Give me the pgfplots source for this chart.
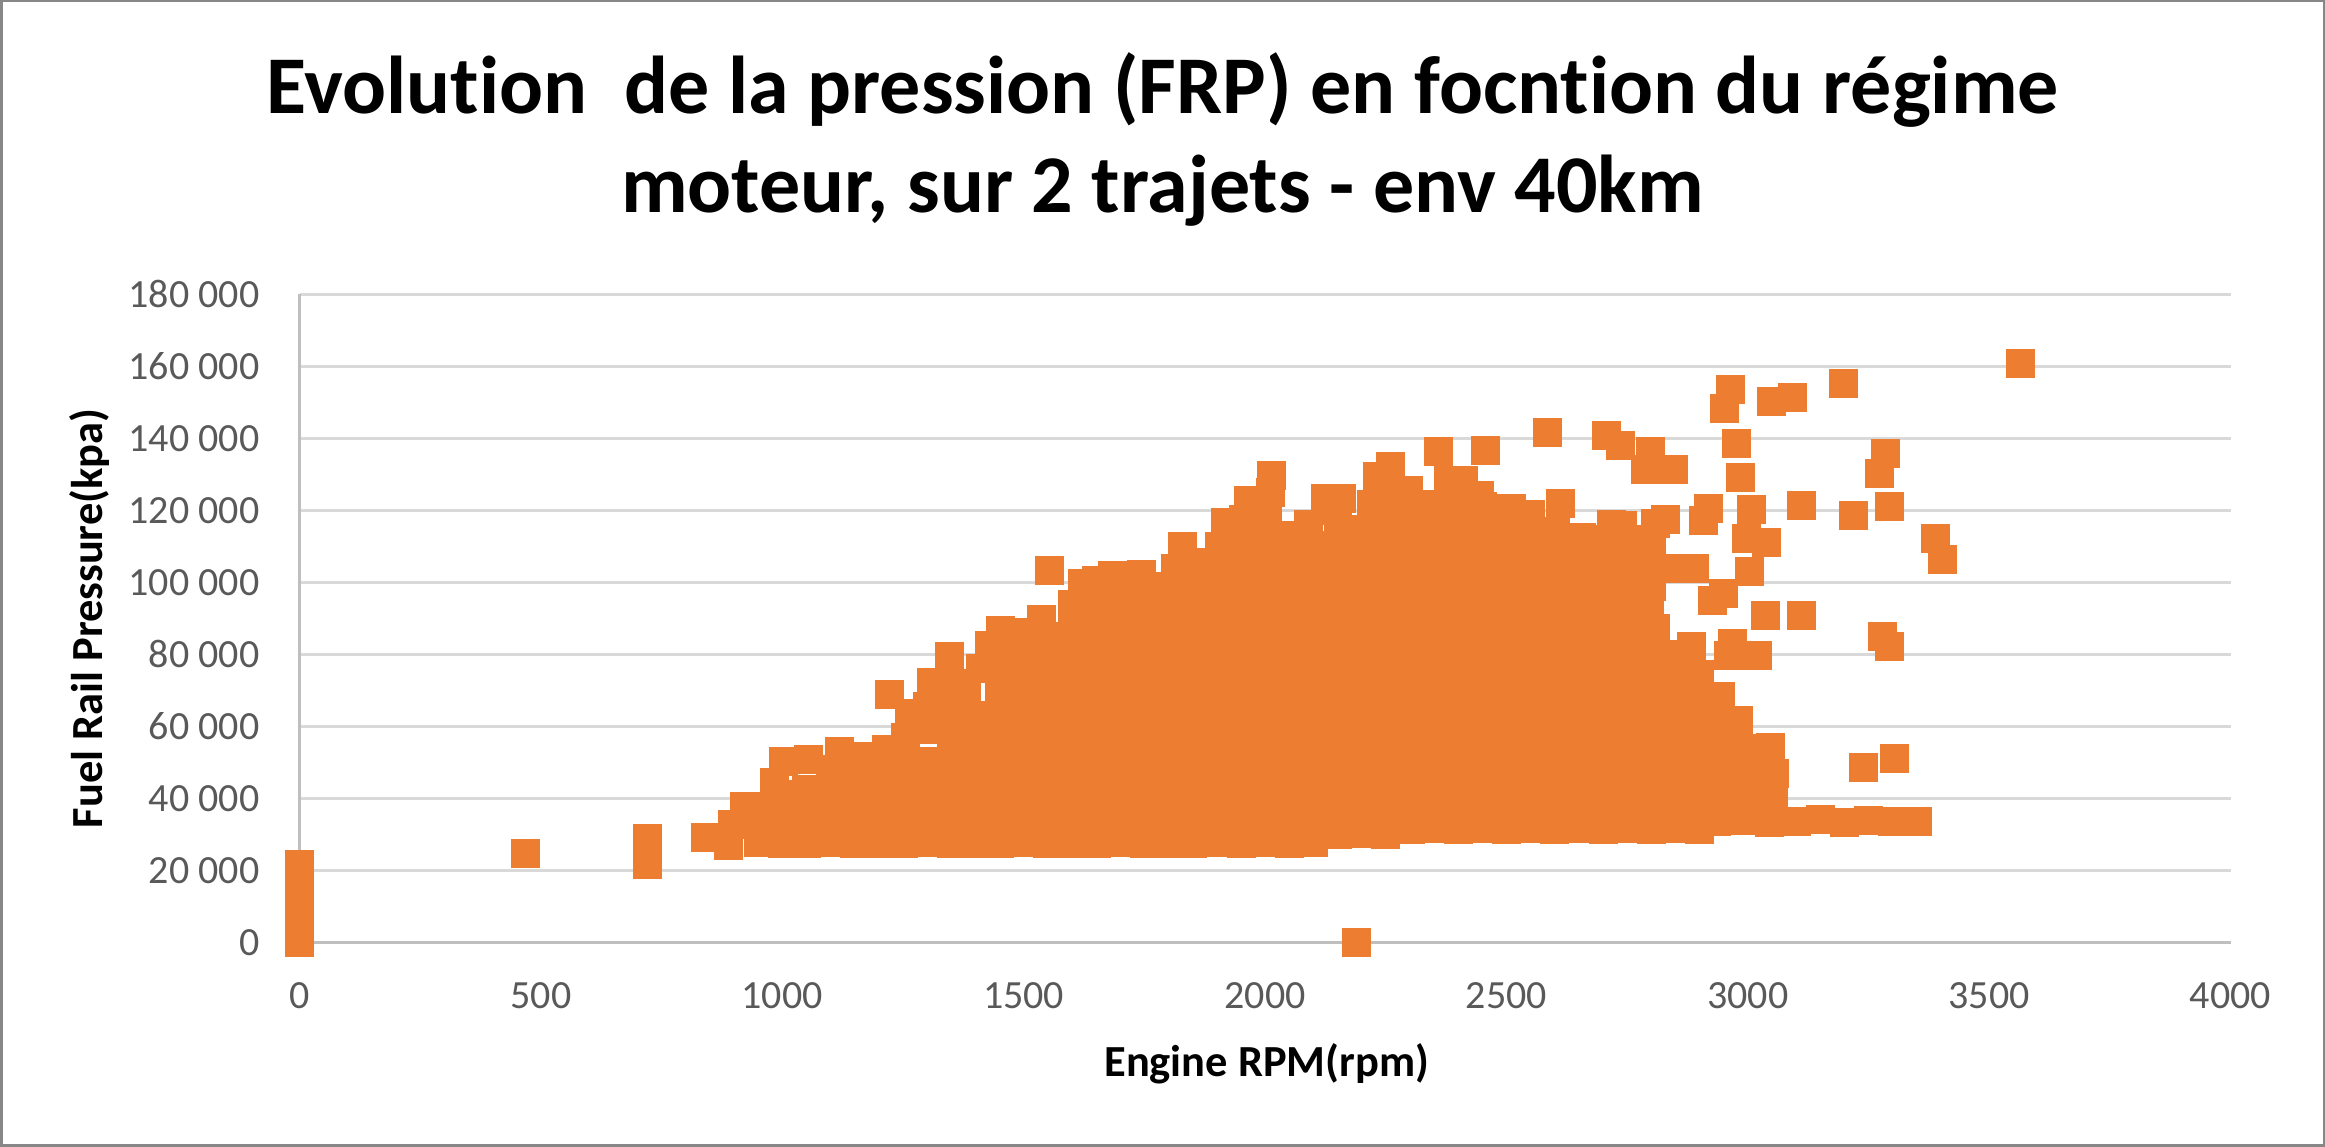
\documentclass[border=0pt]{standalone}
\usepackage{fontspec}
\setmainfont{Carlito}[Ligatures={NoCommon}]
\usepackage{pgfplots}
\pgfplotsset{compat=1.18}
\definecolor{xlorange}{HTML}{ED7D31}
\definecolor{gridgray}{HTML}{D9D9D9}
\definecolor{axisgray}{HTML}{BFBFBF}
\definecolor{ticktext}{HTML}{595959}
\definecolor{framegray}{HTML}{878787}
\begin{document}
\begin{tikzpicture}
\useasboundingbox (0,0) rectangle (697.5pt,344.1pt);
\fill[white] (0,0) rectangle (697.5pt,344.1pt);
\begin{axis}[
  at={(89.85pt,61.4pt)}, anchor=south west,
  scale only axis, width=579.3pt, height=194.4pt,
  xmin=0, xmax=4000, ymin=0, ymax=180000,
  axis x line*=bottom, axis y line*=left,
  axis line style={axisgray, line width=0.8pt},
  xtick={0,500,1000,1500,2000,2500,3000,3500,4000},
  xticklabels={0,500,1000,1500,2000,2500,3000,3500,4000},
  ytick={0,20000,40000,60000,80000,100000,120000,140000,160000,180000},
  yticklabels={0,20 000,40 000,60 000,80 000,100 000,120 000,140 000,160 000,180 000},
  ymajorgrids, major grid style={gridgray, line width=0.8pt},
  major tick length=0pt,
  tick label style={font=\fontsize{12}{14}\selectfont, text=ticktext, inner sep=0pt},
  yticklabel style={anchor=east, xshift=-11.85pt},
  xticklabel style={anchor=north, yshift=-11.9pt},
  scaled y ticks=false,
  clip=false,
]
\addplot[only marks, mark=square*, mark size=4.2pt,
  mark options={fill=xlorange, draw=xlorange, line width=0.2pt}] coordinates {
(0,0)(0,3600)(0,7200)(0,10900)(0,14500)(0,18200)(0,21800)
(468,24700)(720,28900)(720,21700)
(840,29200)(888,26900)(896,32900)(922,37700)
(948,37900)(950,27800)(950,32800)
(984,44500)(1002,50400)(1000,27600)(1000,35000)(995,41000)
(1053,50900)(1050,27500)(1050,35000)(1050,42500)
(1119,53100)(1100,27700)(1100,35200)(1100,42700)(1100,48000)
(1155,51600)(1150,27400)(1150,34900)(1150,42400)(1150,47000)
(1216,53600)(1200,27600)(1200,35100)(1200,42600)(1200,48500)(1221,68900)
(1264,63600)(1250,27500)(1250,35000)(1250,42500)(1250,50000)(1255,57000)
(1308,72200)(1315,59200)(1300,27700)(1300,35200)(1300,42700)(1300,50200)(1300,65500)
(1347,79400)(1350,27400)(1350,34900)(1350,42400)(1350,49900)(1350,57400)(1350,64900)(1350,72000)
(1381,69100)(1400,27600)(1400,35100)(1400,42600)(1400,50100)(1400,57600)(1400,63000)(1429,82400)(1410,76000)
(1451,86600)(1450,27500)(1450,35000)(1450,42500)(1450,50000)(1450,57500)(1450,65000)(1450,72500)(1450,79500)
(1500,27700)(1500,35200)(1500,42700)(1500,50200)(1500,57700)(1500,65200)(1500,72700)(1500,80200)(1490,86000)
(1536,89800)(1554,103400)(1550,27400)(1550,34900)(1550,42400)(1550,49900)(1550,57400)(1550,64900)(1550,72400)(1550,79900)(1550,85000)
(1621,99700)(1600,27600)(1600,35100)(1600,42600)(1600,50100)(1600,57600)(1600,65100)(1600,72600)(1600,80100)(1600,87600)(1600,94000)
(1650,27500)(1652,35000)(1648,42500)(1651,50000)(1649,57500)(1653,65000)(1650,72500)(1647,80000)(1652,87500)(1650,94500)(1650,100500)
(1700,27700)(1698,35200)(1702,42700)(1700,50200)(1699,57700)(1701,65200)(1703,72700)(1700,80200)(1698,87700)(1701,95000)(1684,102000)
(1750,27400)(1752,34900)(1748,42400)(1750,49900)(1751,57400)(1749,64900)(1750,72400)(1753,79900)(1747,87400)(1750,94900)(1744,102200)
(1800,27600)(1802,35100)(1798,42600)(1800,50100)(1801,57600)(1799,65100)(1800,72600)(1803,80100)(1797,87600)(1800,95100)(1795,99000)(1828,110000)(1815,104000)
(1850,27500)(1852,35000)(1848,42500)(1850,50000)(1851,57500)(1849,65000)(1850,72500)(1853,80000)(1847,87500)(1850,95000)(1850,102500)(1870,105500)
(1900,27700)(1902,35200)(1898,42700)(1900,50200)(1901,57700)(1899,65200)(1900,72700)(1903,80200)(1897,87700)(1900,95200)(1900,102700)(1905,110000)(1917,116700)
(1950,27500)(1952,35000)(1948,42500)(1950,50000)(1951,57500)(1949,65000)(1950,72500)(1953,80000)(1947,87500)(1950,95000)(1950,102500)(1952,110000)(1955,117500)(1965,122700)
(2000,27700)(2002,35200)(1998,42700)(2000,50200)(2001,57700)(1999,65200)(2000,72700)(2003,80200)(1997,87700)(2000,95200)(2000,102700)(2002,110200)(2005,117700)(2010,125000)(2014,129800)
(2050,27500)(2052,35000)(2048,42500)(2050,50000)(2051,57500)(2049,65000)(2050,72500)(2053,80000)(2047,87500)(2050,95000)(2050,102500)(2050,110000)(2040,113000)
(2100,27700)(2102,35200)(2098,42700)(2100,50200)(2101,57700)(2099,65200)(2100,72700)(2103,80200)(2097,87700)(2100,95200)(2100,102700)(2100,110200)(2090,116200)
(2150,30000)(2152,37500)(2148,45000)(2150,52500)(2151,60000)(2149,67500)(2150,75000)(2153,82500)(2147,90000)(2150,97500)(2150,105000)(2152,112500)(2150,120000)(2125,123400)(2158,123400)
(2200,30200)(2202,37700)(2198,45200)(2200,52700)(2201,60200)(2199,67700)(2200,75200)(2203,82700)(2197,90200)(2200,97700)(2200,105200)(2200,112000)(2200,114800)
(2250,30000)(2252,37500)(2248,45000)(2250,52500)(2251,60000)(2249,67500)(2250,75000)(2253,82500)(2247,90000)(2250,97500)(2250,105000)(2252,112500)(2250,120000)(2255,127500)(2260,132300)(2220,121700)(2232,129500)
(2300,31500)(2302,39000)(2298,46500)(2300,54000)(2301,61500)(2299,69000)(2300,76500)(2303,84000)(2297,91500)(2300,99000)(2300,106500)(2302,114000)(2300,121500)(2296,125600)
(2350,31700)(2352,39200)(2348,46700)(2350,54200)(2351,61700)(2349,69200)(2350,76700)(2353,84200)(2347,91700)(2350,99200)(2350,106700)(2352,114200)(2350,121700)(2380,128200)(2360,136500)
(2400,31500)(2402,39000)(2398,46500)(2400,54000)(2401,61500)(2399,69000)(2400,76500)(2403,84000)(2397,91500)(2400,99000)(2400,106500)(2402,114000)(2400,121500)(2410,128200)
(2450,31700)(2452,39200)(2448,46700)(2450,54200)(2451,61700)(2449,69200)(2450,76700)(2453,84200)(2447,91700)(2450,99200)(2450,106700)(2452,114200)(2450,121000)(2444,124300)(2457,136800)
(2500,31500)(2502,39000)(2498,46500)(2500,54000)(2501,61500)(2499,69000)(2500,76500)(2503,84000)(2497,91500)(2500,99000)(2500,106500)(2502,114000)(2510,120600)
(2550,31700)(2552,39200)(2548,46700)(2550,54200)(2551,61700)(2549,69200)(2550,76700)(2553,84200)(2547,91700)(2550,99200)(2550,106700)(2552,114200)(2550,118800)
(2600,31500)(2602,39000)(2598,46500)(2600,54000)(2601,61500)(2599,69000)(2600,76500)(2603,84000)(2597,91500)(2600,99000)(2600,106500)(2602,114000)(2611,122000)(2585,141800)
(2650,31700)(2652,39200)(2648,46700)(2650,54200)(2651,61700)(2649,69200)(2650,76700)(2653,84200)(2647,91700)(2650,99200)(2650,106700)(2655,112500)
(2700,31500)(2702,39000)(2698,46500)(2700,54000)(2701,61500)(2699,69000)(2700,76500)(2703,84000)(2697,91500)(2700,99000)(2700,106500)(2700,112000)(2718,116000)(2708,140800)
(2750,31700)(2752,39200)(2748,46700)(2750,54200)(2751,61700)(2749,69200)(2750,76700)(2753,84200)(2747,91700)(2750,99200)(2750,106700)(2750,112000)(2740,115800)(2736,138100)
(2800,31500)(2802,39000)(2798,46500)(2800,54000)(2801,61500)(2799,69000)(2800,76500)(2803,84000)(2797,91500)(2800,99000)(2800,104000)(2800,108400)(2808,87300)(2808,116500)(2829,117400)(2798,136500)(2787,131300)
(2850,31700)(2852,39200)(2848,46700)(2850,54200)(2851,61700)(2849,69200)(2850,76500)(2850,80000)(2841,103800)(2846,131300)
(2900,31500)(2902,39000)(2898,46500)(2900,54000)(2901,61500)(2899,69000)(2900,74500)(2883,82200)(2889,103800)(2907,117300)(2918,120600)
(2935,33500)(2950,39000)(2950,46500)(2950,54000)(2944,61400)(2944,68300)(2960,79800)(2969,83100)(2926,95100)(2950,97000)(2951,148200)(2963,153500)(2976,138700)(2985,129300)
(2990,33800)(3000,39000)(3000,46500)(3000,54000)(2980,61800)(3019,79800)(3003,103000)(3008,120400)(2996,112200)
(3045,33300)(3053,40000)(3054,47000)(3046,54300)(3039,111200)(3036,90900)(3049,150400)
(3100,33600)(3150,34200)(3200,33400)(3250,33900)(3300,33700)(3351,33500)
(3092,151300)(3197,155400)(3564,160700)(3111,121300)(3218,118700)(3293,121100)(3285,135800)(3273,130400)
(3388,112300)(3404,106500)(3111,90900)(3278,85100)(3293,82300)(3239,48600)(3303,51000)(2189,0)
};
\end{axis}
\node[anchor=base, font=\fontsize{24.6}{29}\selectfont\bfseries] at (348.75pt,309.9pt) {Evolution\ \ de la pression (FRP) en focntion du régime};
\node[anchor=base, font=\fontsize{24.6}{29}\selectfont\bfseries] at (348.75pt,280.2pt) {moteur, sur 2 trajets - env 40km};
\node[anchor=base, font=\fontsize{13.33}{16}\selectfont\bfseries] at (380pt,21pt) {Engine RPM(rpm)};
\node[anchor=base, rotate=90, font=\fontsize{13.33}{16}\selectfont\bfseries] at (30.9pt,158.6pt) {Fuel Rail Pressure(kpa)};
\draw[framegray, line width=0.75pt] (0.375pt,0.375pt) rectangle (697.125pt,343.725pt);
\end{tikzpicture}
\end{document}
